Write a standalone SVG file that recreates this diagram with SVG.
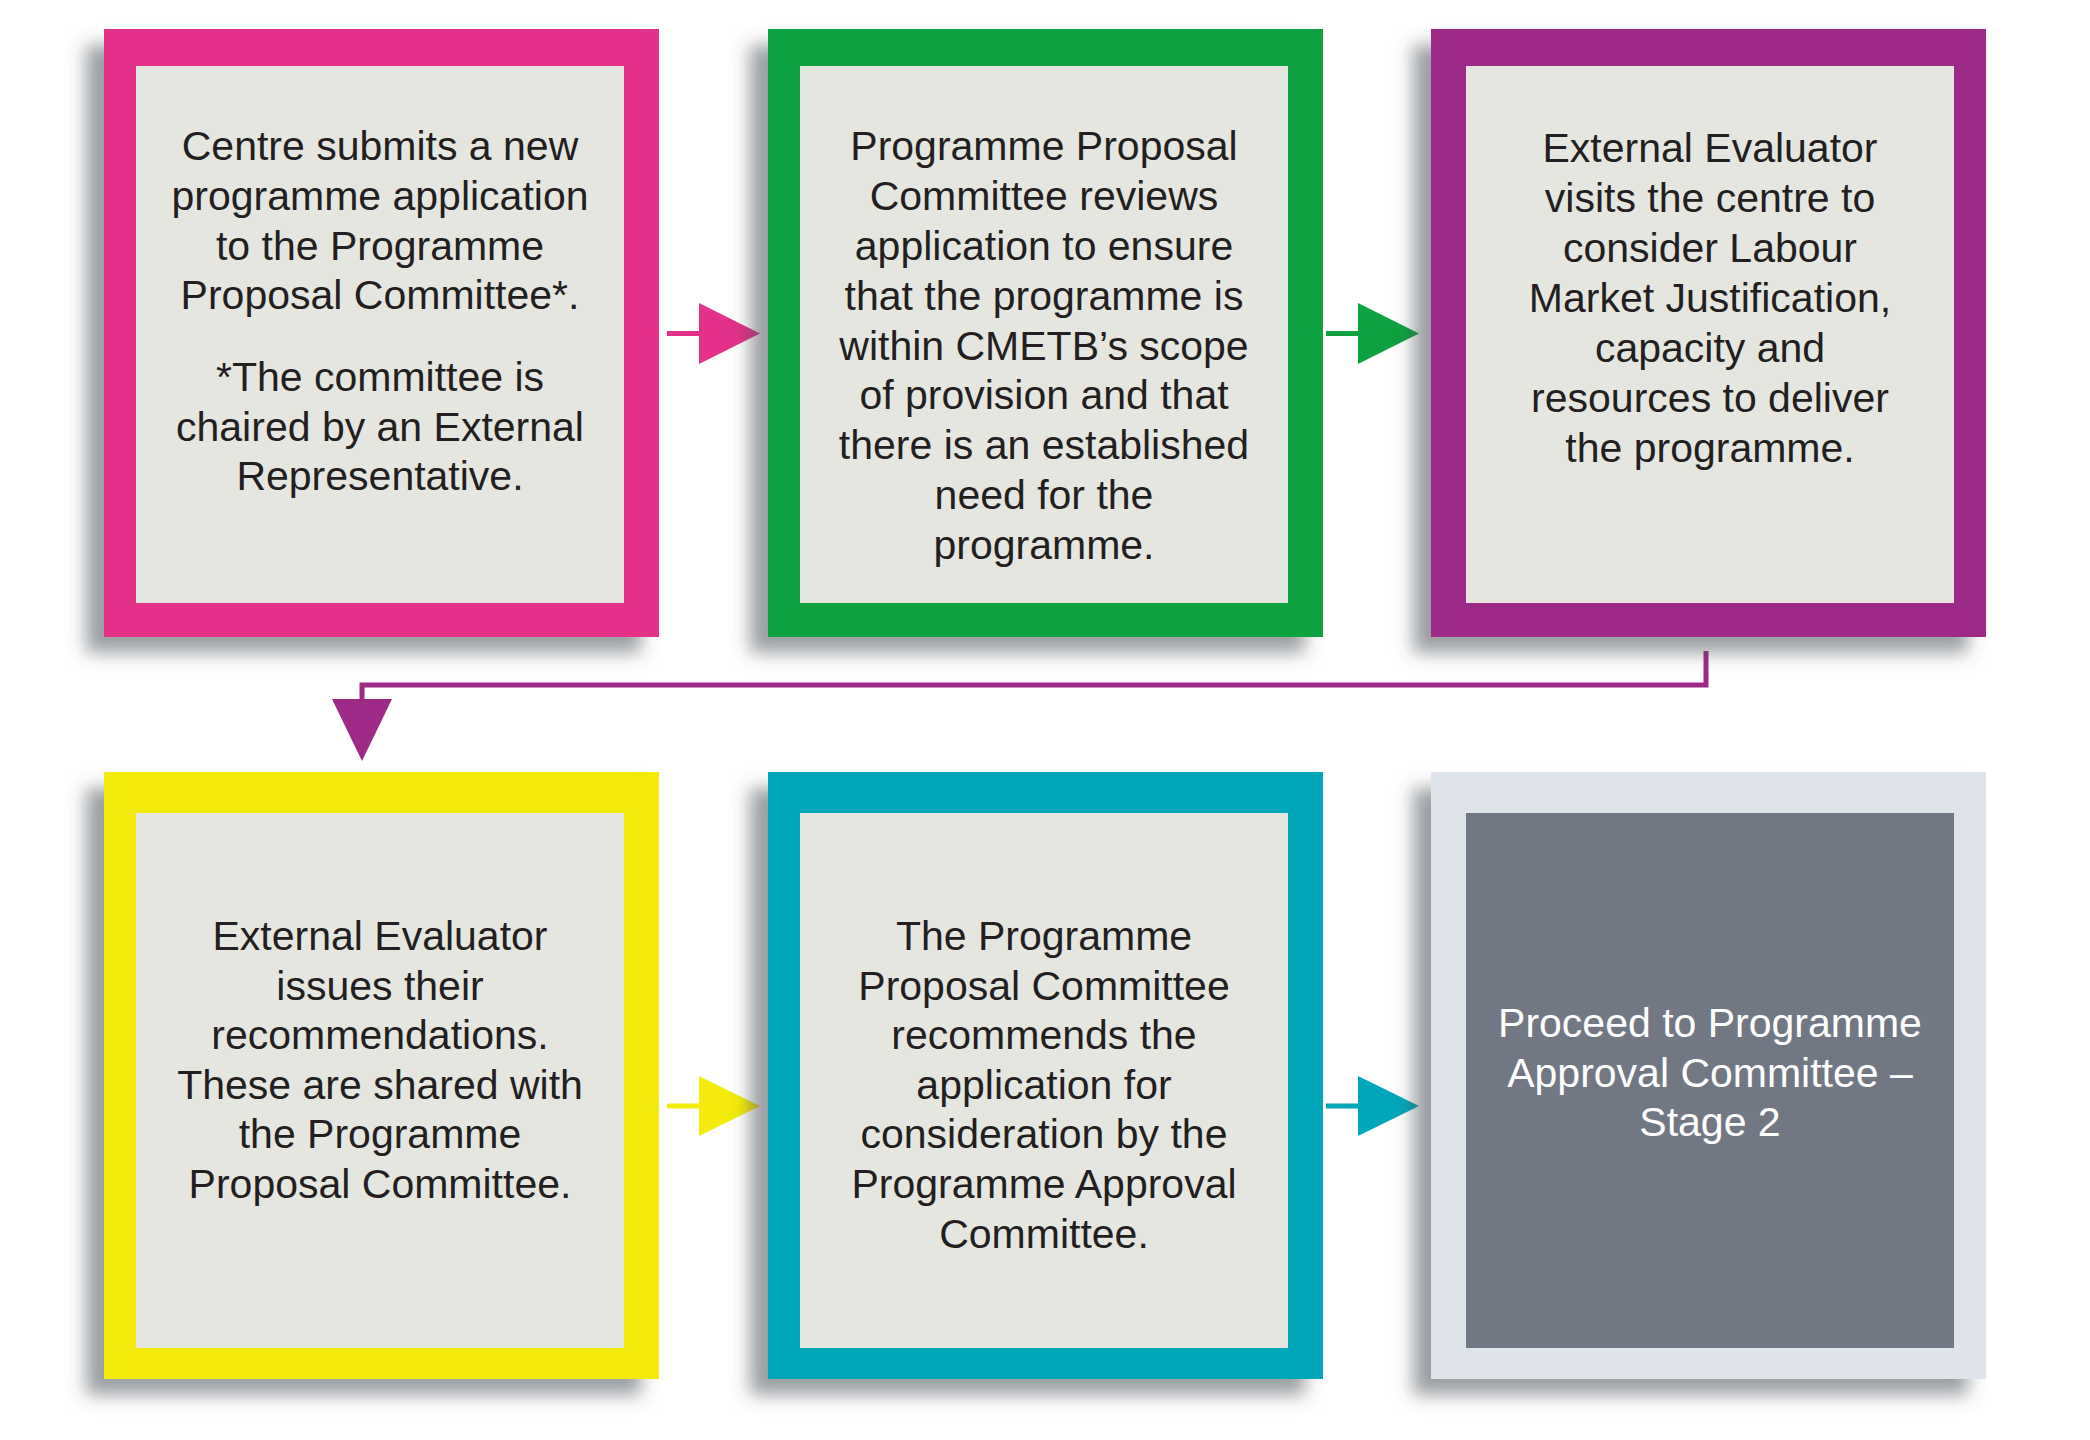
<svg xmlns="http://www.w3.org/2000/svg" width="2090" height="1440" viewBox="0 0 2090 1440">
<defs>
<style>
.inner{fill:#E6E6E1}
.t{font-family:"Liberation Sans",Arial,sans-serif;font-size:41px;fill:#231F20;text-anchor:middle}
.tw{fill:#FFFFFF}
</style>
<filter id="sh" x="-15%" y="-15%" width="130%" height="130%">
<feDropShadow dx="-18" dy="16" stdDeviation="9" flood-color="#4a4f57" flood-opacity="0.55"/>
</filter>
</defs>
<rect width="2090" height="1440" fill="#FFFFFF"/>

<g id="connectors">
<g id="c1" fill="#E4318A"><rect x="667" y="331" width="34" height="5"/><polygon points="699,303 760,333.5 699,364"/></g>
<g id="c2" fill="#0DA13F"><rect x="1326" y="331" width="34" height="5"/><polygon points="1358,303 1419,333.5 1358,364"/></g>
<g id="c3"><polyline points="1706,651 1706,685 362,685 362,701" fill="none" stroke="#9C2A86" stroke-width="5"/><polygon points="332,699 392,699 362,761" fill="#9C2A86"/></g>
<g id="c4" fill="#F4EB0C"><rect x="667" y="1103.5" width="34" height="5"/><polygon points="699,1076 760,1106 699,1136"/></g>
<g id="c5" fill="#00A6B9"><rect x="1326" y="1103.5" width="34" height="5"/><polygon points="1358,1076 1419,1106 1358,1136"/></g>
</g>

<g id="n1">
<rect x="104" y="29" width="555" height="608" fill="#E4318A" filter="url(#sh)"/>
<rect class="inner" x="136" y="66" width="488" height="537"/>
<text class="t"><tspan x="380" y="160">Centre submits a new</tspan><tspan x="380" y="210">programme application</tspan><tspan x="380" y="260">to the Programme</tspan><tspan x="380" y="309">Proposal Committee*.</tspan><tspan x="380" y="391">*The committee is</tspan><tspan x="380" y="441">chaired by an External</tspan><tspan x="380" y="490">Representative.</tspan></text>
</g>

<g id="n2">
<rect x="768" y="29" width="555" height="608" fill="#0DA13F" filter="url(#sh)"/>
<rect class="inner" x="800" y="66" width="488" height="537"/>
<text class="t"><tspan x="1044" y="160">Programme Proposal</tspan><tspan x="1044" y="210">Committee reviews</tspan><tspan x="1044" y="260">application to ensure</tspan><tspan x="1044" y="310">that the programme is</tspan><tspan x="1044" y="360">within CMETB’s scope</tspan><tspan x="1044" y="409">of provision and that</tspan><tspan x="1044" y="459">there is an established</tspan><tspan x="1044" y="509">need for the</tspan><tspan x="1044" y="559">programme.</tspan></text>
</g>

<g id="n3">
<rect x="1431" y="29" width="555" height="608" fill="#9C2A86" filter="url(#sh)"/>
<rect class="inner" x="1466" y="66" width="488" height="537"/>
<text class="t"><tspan x="1710" y="162">External Evaluator</tspan><tspan x="1710" y="212">visits the centre to</tspan><tspan x="1710" y="262">consider Labour</tspan><tspan x="1710" y="312">Market Justification,</tspan><tspan x="1710" y="362">capacity and</tspan><tspan x="1710" y="412">resources to deliver</tspan><tspan x="1710" y="462">the programme.</tspan></text>
</g>

<g id="n4">
<rect x="104" y="772" width="555" height="607" fill="#F4EB0C" filter="url(#sh)"/>
<rect class="inner" x="136" y="813" width="488" height="535"/>
<text class="t"><tspan x="380" y="950">External Evaluator</tspan><tspan x="380" y="999.6">issues their</tspan><tspan x="380" y="1049.2">recommendations.</tspan><tspan x="380" y="1098.8">These are shared with</tspan><tspan x="380" y="1148.4">the Programme</tspan><tspan x="380" y="1198">Proposal Committee.</tspan></text>
</g>

<g id="n5">
<rect x="768" y="772" width="555" height="607" fill="#00A6B9" filter="url(#sh)"/>
<rect class="inner" x="800" y="813" width="488" height="535"/>
<text class="t"><tspan x="1044" y="950">The Programme</tspan><tspan x="1044" y="999.6">Proposal Committee</tspan><tspan x="1044" y="1049.2">recommends the</tspan><tspan x="1044" y="1098.8">application for</tspan><tspan x="1044" y="1148.4">consideration by the</tspan><tspan x="1044" y="1198">Programme Approval</tspan><tspan x="1044" y="1247.6">Committee.</tspan></text>
</g>

<g id="n6">
<rect x="1431" y="772" width="555" height="607" fill="#DFE3EA" filter="url(#sh)"/>
<rect x="1466" y="813" width="488" height="535" fill="#727883"/>
<text class="t tw"><tspan x="1710" y="1037">Proceed to Programme</tspan><tspan x="1710" y="1087">Approval Committee –</tspan><tspan x="1710" y="1136">Stage 2</tspan></text>
</g>
</svg>
